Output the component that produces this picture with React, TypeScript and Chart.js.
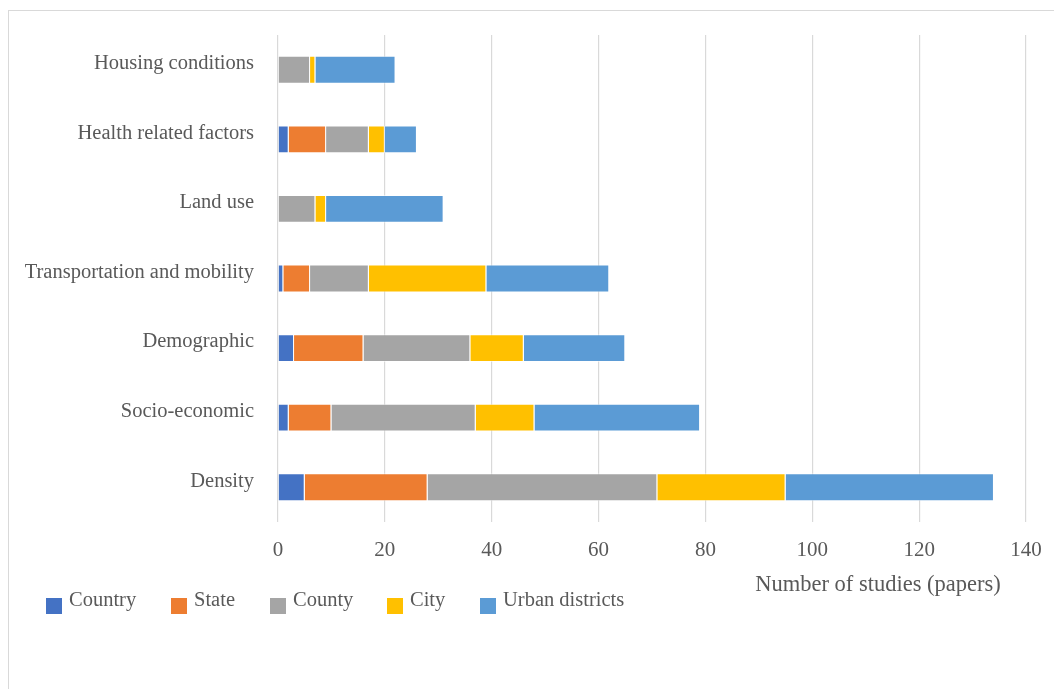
import React, { useEffect, useRef } from "react";
import { Chart, registerables } from "chart.js";

Chart.register(...registerables);

const categories = [
  "Housing conditions",
  "Health related factors",
  "Land use",
  "Transportation and mobility",
  "Demographic",
  "Socio-economic",
  "Density",
];

const seriesNames = ["Country", "State", "County", "City", "Urban districts"];
const countryValues = [0, 2, 0, 1, 3, 2, 5];
const stateValues = [0, 7, 0, 5, 13, 8, 23];
const countyValues = [6, 8, 7, 11, 20, 27, 43];
const cityValues = [1, 3, 2, 22, 10, 11, 24];
const urbanValues = [15, 6, 22, 23, 19, 31, 39];
const seriesColors = ["#4472C4", "#ED7D31", "#A5A5A5", "#FFC000", "#5B9BD5"];

const xTicks = [0, 20, 40, 60, 80, 100, 120, 140];
const xAxisTitle = "Number of studies (papers)";

const FONT = "'Liberation Serif', 'Times New Roman', serif";
const TEXT = "#595959";
const LEGEND_X = [46, 171, 270, 387, 480];

const extrasPlugin = {
  id: "extras",
  afterDraw(chart: any) {
    const ctx = chart.ctx;
    ctx.save();
    // axis title
    ctx.fillStyle = TEXT;
    ctx.font = `22.5px ${FONT}`;
    ctx.textAlign = "center";
    ctx.textBaseline = "alphabetic";
    ctx.fillText(xAxisTitle, 878, 591);
    // legend
    ctx.font = `20.5px ${FONT}`;
    ctx.textAlign = "left";
    chart.data.datasets.forEach((ds: any, i: number) => {
      const x = LEGEND_X[i];
      ctx.fillStyle = ds.backgroundColor;
      ctx.fillRect(x, 598, 16, 16);
      ctx.fillStyle = TEXT;
      ctx.fillText(ds.label, x + 23, 606);
    });
    ctx.restore();
  },
};

export default function App() {
  const ref = useRef<HTMLCanvasElement | null>(null);
  useEffect(() => {
    if (!ref.current) return;
    const valueSets = [countryValues, stateValues, countyValues, cityValues, urbanValues];
    const chart = new Chart(ref.current, {
      type: "bar",
      data: {
        labels: categories,
        datasets: seriesNames.map((name, i) => ({
          label: name,
          data: valueSets[i],
          backgroundColor: seriesColors[i],
          borderColor: "rgba(255,255,255,0.55)",
          borderWidth: 1,
          barPercentage: 0.4,
          categoryPercentage: 1,
        })),
      },
      options: {
        indexAxis: "y",
        animation: false,
        responsive: true,
        maintainAspectRatio: false,
        layout: { padding: { top: 35, right: 28, left: 0, bottom: 0 } },
        plugins: {
          legend: { display: false },
          tooltip: { enabled: false },
        },
        scales: {
          x: {
            stacked: true,
            min: 0,
            max: 140,
            afterFit: (s: any) => {
              s.height = 167;
              s.paddingLeft = 0;
              s.paddingRight = 0;
            },
            afterBuildTicks: (s: any) => {
              s.ticks = xTicks.map((v) => ({ value: v }));
            },
            grid: { color: "#d9d9d9", lineWidth: 1.2, drawTicks: false },
            border: { display: false },
            ticks: {
              color: TEXT,
              font: { family: FONT, size: 21 },
              padding: 16,
              maxRotation: 0,
            },
          },
          y: {
            stacked: true,
            afterFit: (s: any) => {
              s.width = 278;
              s.paddingTop = 0;
              s.paddingBottom = 0;
            },
            grid: { display: false, drawTicks: false },
            border: { display: false },
            ticks: {
              color: TEXT,
              font: { family: FONT, size: 20.5 },
              padding: 24,
              labelOffset: -6,
            },
          },
        },
      },
      plugins: [extrasPlugin],
    });
    return () => chart.destroy();
  }, []);

  return (
    <div style={{ position: "fixed", left: 0, top: 0, width: 1054, height: 689, background: "#fff" }}>
      <div
        style={{
          position: "absolute",
          left: 8,
          top: 10,
          width: 1060,
          height: 700,
          borderTop: "1px solid #d9d9d9",
          borderLeft: "1px solid #d9d9d9",
        }}
      />
      <canvas ref={ref} style={{ position: "absolute", left: 0, top: 0 }} />
    </div>
  );
}
